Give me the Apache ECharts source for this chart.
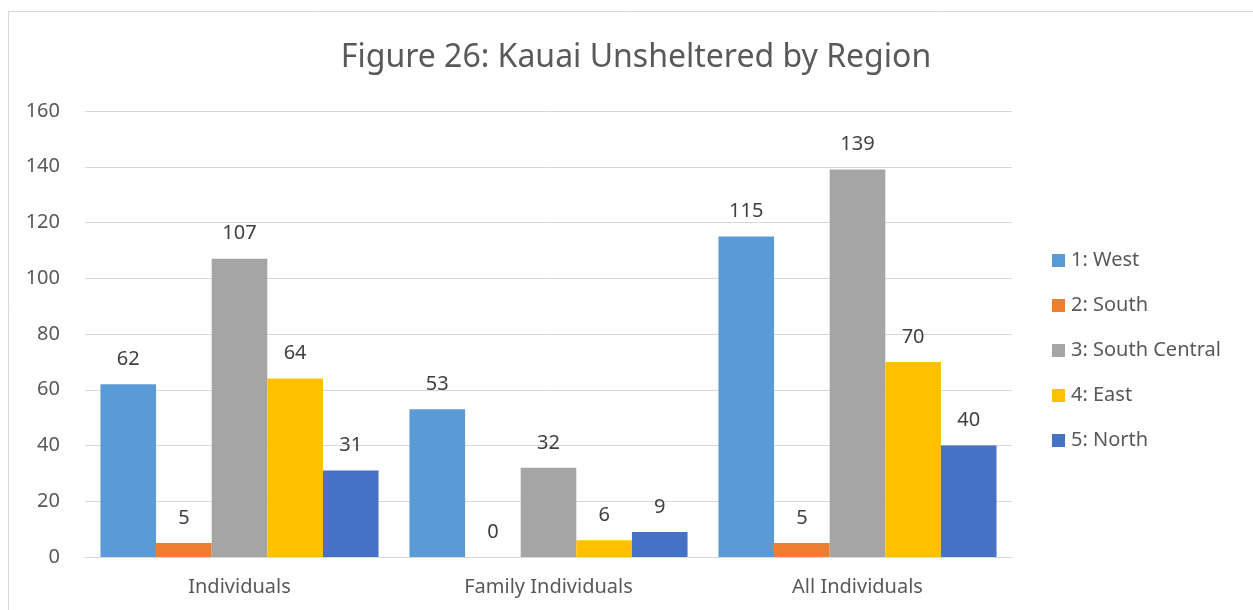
<!DOCTYPE html>
<html>
<head>
<meta charset="utf-8">
<script src="https://cdn.jsdelivr.net/npm/echarts@6/dist/echarts.min.js"></script>
<style>
  html, body { margin: 0; padding: 0; background: #fff; }
  #main { width: 1253px; height: 610px; }
</style>
</head>
<body>
<div id="main"></div>
<script>
// chart data
const categories = ['Individuals', 'Family Individuals', 'All Individuals'];
const regions = ['1: West', '2: South', '3: South Central', '4: East', '5: North'];
const west = [62, 53, 115];
const south = [5, 0, 5];
const southCentral = [107, 32, 139];
const east = [64, 6, 70];
const north = [31, 9, 40];
const colors = ['#5B9BD5', '#ED7D31', '#A5A5A5', '#FFC000', '#4472C4'];

const font = '"Noto Sans", sans-serif';
const values = [west, south, southCentral, east, north];

const chart = echarts.init(document.getElementById('main'));

chart.setOption({
  animation: false,
  color: colors,
  textStyle: { fontFamily: font },
  graphic: [{
    type: 'rect',
    shape: { x: 8.5, y: 11.5, width: 1260, height: 620 },
    style: { fill: 'none', stroke: '#d9d9d9', lineWidth: 1 },
    silent: true
  }],
  title: {
    text: 'Figure 26: Kauai Unsheltered by Region',
    left: 631,
    textAlign: 'center',
    top: 37,
    textStyle: { fontFamily: font, fontSize: 32, fontWeight: 'normal', color: '#595959' }
  },
  legend: {
    orient: 'vertical',
    left: 1047,
    top: 245,
    itemWidth: 13,
    itemHeight: 13,
    itemGap: 24,
    icon: 'rect',
    data: regions,
    textStyle: { fontFamily: font, fontSize: 20, color: '#595959', lineHeight: 21, padding: [0, 0, 0, 1] }
  },
  grid: { left: 85, right: 241, top: 111, bottom: 53, containLabel: false },
  xAxis: {
    type: 'category',
    data: categories,
    axisLine: { lineStyle: { color: '#d9d9d9', width: 1 } },
    axisTick: { show: false },
    axisLabel: { fontFamily: font, fontSize: 20, color: '#595959', margin: 20 }
  },
  yAxis: {
    type: 'value',
    min: 0,
    max: 160,
    interval: 20,
    axisLine: { show: false },
    axisTick: { show: false },
    splitLine: { lineStyle: { color: '#d9d9d9', width: 1 } },
    axisLabel: { fontFamily: font, fontSize: 20, color: '#595959', margin: 25 }
  },
  series: regions.map((name, i) => ({
    name: name,
    type: 'bar',
    data: values[i],
    barGap: '0%',
    barCategoryGap: '10%',
    label: {
      show: true,
      position: 'top',
      distance: 15,
      fontFamily: font,
      fontSize: 20,
      color: '#404040'
    }
  }))
});
</script>
</body>
</html>
